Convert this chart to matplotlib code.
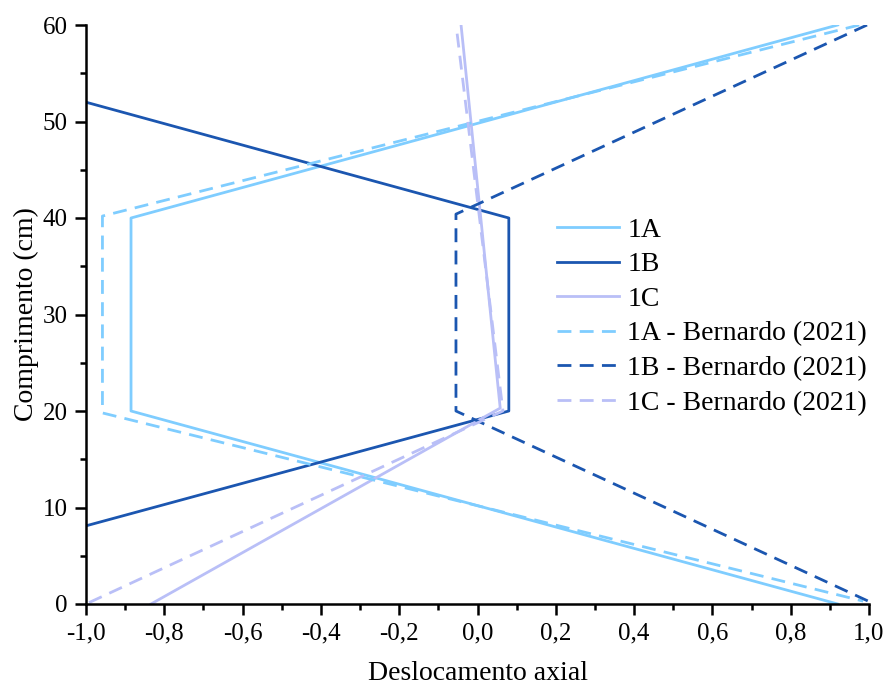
import matplotlib
matplotlib.use("Agg")
import matplotlib.pyplot as plt
from matplotlib.ticker import MultipleLocator, FuncFormatter

plt.rcParams['font.family'] = ['Liberation Serif', 'DejaVu Serif']

# Data (deslocamento axial, comprimento)
x_1A = [0.92, -0.885, -0.885, 0.92]
y_1A = [60, 40, 20, 0]
x_1B = [-1.0, 0.08, 0.08, -1.0]
y_1B = [52, 40, 20, 8.1]
x_1C = [-0.042, 0.058, -0.834]
y_1C = [60, 20.3, 0]
x_1A_ref = [0.975, -0.958, -0.958, 0.985]
y_1A_ref = [60, 40.2, 19.8, 0.3]
x_1B_ref = [0.995, -0.055, -0.055, 0.998]
y_1B_ref = [60, 40.4, 20.0, 0.3]
x_1C_ref = [-0.052, 0.065, -1.0]
y_1C_ref = [59.1, 20.0, 0]

labels = ['1A', '1B', '1C', '1A - Bernardo (2021)', '1B - Bernardo (2021)', '1C - Bernardo (2021)']
c_A = '#7fcdff'
c_B = '#1b56b0'
c_C = '#b9bff7'

fig = plt.figure(figsize=(8.84, 6.87), dpi=100)
ax = fig.add_axes([86/884, 83/687, 783/884, 579/687])

lw = 2.0
dash = (5, 3)
ax.plot(x_1A, y_1A, color=c_A, lw=lw, label=labels[0])
ax.plot(x_1B, y_1B, color=c_B, lw=lw, label=labels[1])
ax.plot(x_1C, y_1C, color=c_C, lw=lw, label=labels[2])
ax.plot(x_1A_ref, y_1A_ref, color=c_A, lw=lw, dashes=dash, label=labels[3])
ax.plot(x_1B_ref, y_1B_ref, color=c_B, lw=lw, dashes=dash, label=labels[4])
ax.plot(x_1C_ref, y_1C_ref, color=c_C, lw=lw, dashes=dash, label=labels[5])

ax.set_xlim(-1.0, 1.0)
ax.set_ylim(0, 60)
ax.spines['top'].set_visible(False)
ax.spines['right'].set_visible(False)
for s in ['left', 'bottom']:
    ax.spines[s].set_linewidth(1.8)

ax.xaxis.set_major_locator(MultipleLocator(0.2))
ax.xaxis.set_minor_locator(MultipleLocator(0.1))
ax.yaxis.set_major_locator(MultipleLocator(10))
ax.yaxis.set_minor_locator(MultipleLocator(5))
ax.xaxis.set_major_formatter(FuncFormatter(lambda v, p: f"{v:.1f}".replace('.', ',').replace('-0,0', '0,0')))
ax.tick_params(which='major', direction='out', length=8, width=1.8, labelsize=18, pad=5)
ax.tick_params(which='minor', direction='out', length=4.5, width=1.8)

ax.set_xlabel('Deslocamento axial', fontsize=20, labelpad=12)
ax.set_ylabel('Comprimento (cm)', fontsize=20, labelpad=3)

leg = ax.legend(loc='center left', bbox_to_anchor=(0.601, 0.4965), frameon=False,
                fontsize=20, handlelength=2.25, handletextpad=0.3, labelspacing=0.33,
                borderpad=0, borderaxespad=0)

fig.savefig('out.png', dpi=100)
